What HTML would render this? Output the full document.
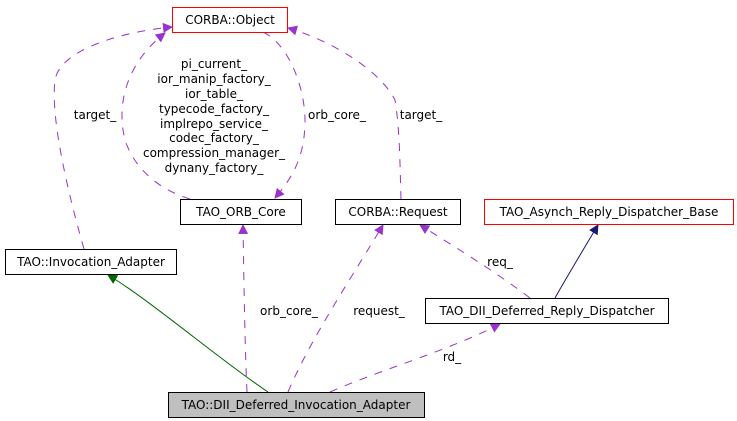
<!DOCTYPE html>
<html><head><meta charset="utf-8"><style>
body{margin:0;background:#fff;}
svg{display:block;font-family:"DejaVu Sans","Liberation Sans",sans-serif;font-size:12px;}
</style></head><body>
<svg width="737" height="421" viewBox="0 0 737 421" xmlns="http://www.w3.org/2000/svg">
<defs>
<marker id="p" markerWidth="10" markerHeight="10" refX="9" refY="5" orient="auto" markerUnits="userSpaceOnUse"><path d="M0,0 L10,5 L0,10 z" fill="#9a32cd"/></marker>
<marker id="g" markerWidth="10" markerHeight="10" refX="9" refY="5" orient="auto" markerUnits="userSpaceOnUse"><path d="M0,0 L10,5 L0,10 z" fill="#006400"/></marker>
<marker id="b" markerWidth="10" markerHeight="10" refX="9" refY="5" orient="auto" markerUnits="userSpaceOnUse"><path d="M0,0 L10,5 L0,10 z" fill="#191970"/></marker>
</defs>
<g fill="none" stroke="#9a32cd" stroke-dasharray="8,8">
<path d="M84,249 C70,200 50,120 55,80 C60,50 120,32 172,27" marker-end="url(#p)"/>
<path d="M190,199 C160,190 135,170 125,140 C115,100 130,60 165,33" marker-end="url(#p)"/>
<path d="M263,32 C290,45 305,90 305,120 C305,160 290,180 275,198" marker-end="url(#p)"/>
<path d="M401,199 C400,170 400,130 395,100 C380,70 330,40 288,28" marker-end="url(#p)"/>
<path d="M247,392 C245,350 244,290 243,225" marker-end="url(#p)"/>
<path d="M288,392 C310,340 350,280 383,225" marker-end="url(#p)"/>
<path d="M330,392 C380,370 450,350 500,324" marker-end="url(#p)"/>
<path d="M530,298 C500,275 460,250 420,225" marker-end="url(#p)"/>
</g>
<path d="M268,392 C220,360 150,300 108,275" fill="none" stroke="#006400" marker-end="url(#g)"/>
<path d="M555,298 C565,280 580,255 598,225" fill="none" stroke="#191970" marker-end="url(#b)"/>
<g stroke-width="1">
<rect x="172.5" y="7.5" width="115" height="25" fill="#fff" stroke="#ff0000"/>
<rect x="180.5" y="199.5" width="121" height="25" fill="#fff" stroke="#000"/>
<rect x="335.5" y="199.5" width="125" height="25" fill="#fff" stroke="#000"/>
<rect x="484.5" y="199.5" width="249" height="25" fill="#fff" stroke="#ff0000"/>
<rect x="5.5" y="249.5" width="171" height="25" fill="#fff" stroke="#000"/>
<rect x="425.5" y="298.5" width="243" height="25" fill="#fff" stroke="#000"/>
<rect x="168.5" y="392.5" width="256" height="25" fill="#bfbfbf" stroke="#000"/>
</g>
<g fill="#000" text-anchor="middle">
<text x="230" y="24">CORBA::Object</text>
<text x="241" y="216">TAO_ORB_Core</text>
<text x="398" y="216">CORBA::Request</text>
<text x="609" y="216">TAO_Asynch_Reply_Dispatcher_Base</text>
<text x="91" y="266">TAO::Invocation_Adapter</text>
<text x="547" y="315">TAO_DII_Deferred_Reply_Dispatcher</text>
<text x="296" y="409">TAO::DII_Deferred_Invocation_Adapter</text>
<text x="214" y="68">pi_current_</text>
<text x="214" y="83">ior_manip_factory_</text>
<text x="214" y="98">ior_table_</text>
<text x="214" y="113">typecode_factory_</text>
<text x="214" y="128">implrepo_service_</text>
<text x="214" y="142">codec_factory_</text>
<text x="214" y="157">compression_manager_</text>
<text x="214" y="172">dynany_factory_</text>
<text x="95" y="119">target_</text>
<text x="337" y="119">orb_core_</text>
<text x="421" y="119">target_</text>
<text x="500" y="266">req_</text>
<text x="289" y="315">orb_core_</text>
<text x="379" y="315">request_</text>
<text x="452" y="361">rd_</text>
</g>
</svg>
</body></html>
